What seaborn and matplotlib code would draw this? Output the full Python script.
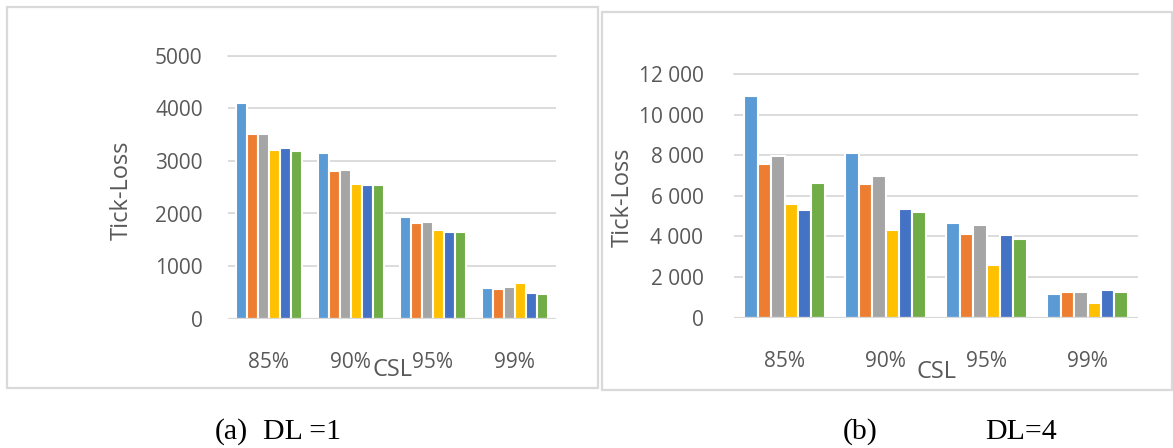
import matplotlib
matplotlib.use("Agg")
import matplotlib.pyplot as plt
from matplotlib.patches import Rectangle
from matplotlib.ticker import FuncFormatter
import numpy as np
import pandas as pd
import seaborn as sns

# Customer service levels on the x axis
csl_levels = ["85%", "90%", "95%", "99%"]

# Six forecasting methods (one bar each per CSL group)
methods = ["M1", "M2", "M3", "M4", "M5", "M6"]
method_colors = ["#5B9BD5", "#ED7D31", "#A5A5A5", "#FFC000", "#4472C4", "#70AD47"]

# Tick-loss, lead time DL = 1 (one list per method, values per CSL)
loss_dl1_m1 = [4110, 3145, 1925, 578]
loss_dl1_m2 = [3507, 2808, 1823, 559]
loss_dl1_m3 = [3507, 2821, 1836, 597]
loss_dl1_m4 = [3208, 2567, 1684, 686]
loss_dl1_m5 = [3240, 2541, 1645, 483]
loss_dl1_m6 = [3189, 2541, 1645, 476]

# Tick-loss, lead time DL = 4
loss_dl4_m1 = [10900, 8115, 4675, 1152]
loss_dl4_m2 = [7556, 6568, 4099, 1284]
loss_dl4_m3 = [7984, 6996, 4560, 1284]
loss_dl4_m4 = [5580, 4296, 2617, 741]
loss_dl4_m5 = [5284, 5333, 4082, 1366]
loss_dl4_m6 = [6650, 5218, 3852, 1284]

yticks_dl1 = [0, 1000, 2000, 3000, 4000, 5000]
yticks_dl4 = [0, 2000, 4000, 6000, 8000, 10000, 12000]


def to_long(series):
    rows = []
    for m, vals in zip(methods, series):
        for c, v in zip(csl_levels, vals):
            rows.append({"CSL": c, "method": m, "loss": v})
    return pd.DataFrame(rows)


df_dl1 = to_long([loss_dl1_m1, loss_dl1_m2, loss_dl1_m3,
                  loss_dl1_m4, loss_dl1_m5, loss_dl1_m6])
df_dl4 = to_long([loss_dl4_m1, loss_dl4_m2, loss_dl4_m3,
                  loss_dl4_m4, loss_dl4_m5, loss_dl4_m6])

sns.set_theme(style="white")
plt.rcParams["font.family"] = ["Open Sans", "DejaVu Sans"]

W, H = 1173, 448
fig = plt.figure(figsize=(W / 100, H / 100), dpi=100)
fig.patch.set_facecolor("white")


def px_axes(x0, x1, y_top, y_bot):
    return fig.add_axes([x0 / W, (H - y_bot) / H, (x1 - x0) / W, (y_bot - y_top) / H])


grid_c = "#D9D9D9"
text_c = "#595959"
tick_fs = 15
title_fs = 17

# panel frames
fig.add_artist(Rectangle((7 / W, (H - 388) / H), (598 - 7) / W, (388 - 7) / H,
                         transform=fig.transFigure, fill=False,
                         edgecolor=grid_c, linewidth=1.6))
fig.add_artist(Rectangle((602 / W, (H - 390) / H), (1172 - 602) / W, (390 - 12) / H,
                         transform=fig.transFigure, fill=False,
                         edgecolor=grid_c, linewidth=1.6))


def draw_panel(ax, df, yticks, fmt, ytick_pad, ylab_xy, xlab_xy):
    sns.barplot(data=df, x="CSL", y="loss", hue="method", order=csl_levels,
                hue_order=methods, palette=method_colors, width=0.8,
                edgecolor="white", linewidth=1.5, legend=False, ax=ax,
                errorbar=None, saturation=1)
    ax.set_ylim(0, yticks[-1])
    ax.set_yticks(yticks)
    ax.yaxis.set_major_formatter(FuncFormatter(fmt))
    for s in ax.spines.values():
        s.set_visible(False)
    ax.grid(axis="y", color=grid_c, linewidth=1.3)
    ax.set_axisbelow(True)
    ax.axhline(0, color=grid_c, linewidth=1.6, zorder=5)
    ax.axhline(yticks[-1], color=grid_c, linewidth=1.3, zorder=0, clip_on=False)
    ax.tick_params(axis="both", length=0, labelsize=tick_fs, colors=text_c)
    ax.tick_params(axis="y", pad=ytick_pad)
    ax.tick_params(axis="x", pad=24)
    ax.set_ylabel("Tick-Loss", fontsize=title_fs, color=text_c, va="center")
    ax.yaxis.set_label_coords(*ylab_xy)
    ax.set_xlabel("CSL", fontsize=title_fs, color=text_c, va="center")
    ax.xaxis.set_label_coords(*xlab_xy)


ax1 = px_axes(227.7, 555.7, 55.7, 318.7)
draw_panel(ax1, df_dl1, yticks_dl1, lambda v, p: f"{int(v)}", 18,
           (-0.322, 0.49), (0.501, -0.195))

ax2 = px_axes(734, 1138, 74, 317.7)
draw_panel(ax2, df_dl4, yticks_dl4, lambda v, p: f"{int(v):,}".replace(",", " "), 22,
           (-0.275, 0.495), (0.502, -0.223))

# captions
cap_kw = dict(fontsize=21.5, family="Liberation Serif", color="black", va="center")
cy = (H - 432) / H
fig.text(215 / W, cy, "(a)", ha="left", **cap_kw)
fig.text(263 / W, cy, "DL =1", ha="left", **cap_kw)
fig.text(843 / W, cy, "(b)", ha="left", **cap_kw)
fig.text(985 / W, cy, "DL=4", ha="left", **cap_kw)

fig.savefig("out.png", dpi=100, facecolor="white")
